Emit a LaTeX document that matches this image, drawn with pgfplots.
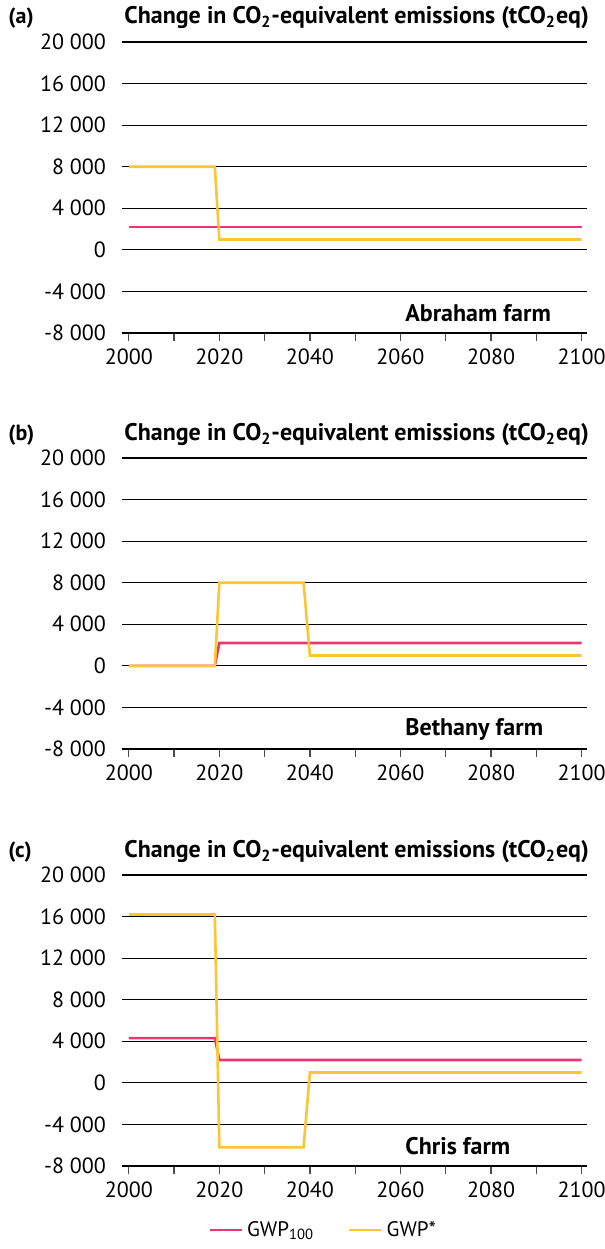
\documentclass[border=0pt]{standalone}
\usepackage{pgfplots}
\pgfplotsset{compat=1.18}
\usepackage{fontspec}
\setmainfont{PT Sans}
\definecolor{gwpa}{RGB}{233,56,110}
\definecolor{gwpb}{RGB}{253,196,52}
\tikzset{farmlabel/.style={anchor=west,inner sep=0pt,font=\fontsize{12}{14}\selectfont\bfseries}}
\pgfplotsset{
  farm/.style={
    scale only axis,
    width=232.5pt, height=145.5pt,
    xmin=1998.5, xmax=2101.2,
    ymin=-8000, ymax=20000,
    scaled y ticks=false,
    axis x line*=bottom,
    axis y line*=left,
    y axis line style={draw=none},
    x axis line style={line width=0.6pt},
    ytick={-8000,-4000,0,4000,8000,12000,16000,20000},
    yticklabels={-8 000,-4 000,0,4 000,8 000,12 000,16 000,20 000},
    xtick={2000,2010,...,2100},
    xticklabels={2000,,2020,,2040,,2060,,2080,,2100},
    ymajorgrids,
    grid style={black,line width=0.6pt},
    ytick style={draw=none},
    xtick style={black!70,line width=0.6pt},
    tick align=outside,
    major tick length=4pt,
    ticklabel style={font=\fontsize{11}{13}\selectfont},
    yticklabel style={xshift=-0.5pt},
    xticklabel style={yshift=-0.5pt},
    clip=false,
  },
  pinkline/.style={gwpa,line width=1.3pt},
  yellowline/.style={gwpb,line width=1.3pt},
}
\begin{document}
\begin{tikzpicture}
\path[use as bounding box] (0,0) rectangle (302.5pt,-624.5pt);
% (a)
\begin{axis}[farm, at={(61pt,-21pt)}, anchor=north west]
\addplot[pinkline] coordinates {(2000,2200) (2100,2200)};
\addplot[yellowline] coordinates {(2000,8000) (2019,8000) (2020,1000) (2100,1000)};
\node[farmlabel] at (axis cs:2061,-6100) {Abraham farm};
\end{axis}
% (b)
\begin{axis}[farm, at={(61pt,-229pt)}, anchor=north west]
\addplot[pinkline] coordinates {(2000,0) (2019,0) (2020,2200) (2100,2200)};
\addplot[yellowline] coordinates {(2000,0) (2019,0) (2020,8000) (2038.6,8000) (2040,1000) (2100,1000)};
\node[farmlabel] at (axis cs:2061,-6100) {Bethany farm};
\end{axis}
% (c)
\begin{axis}[farm, at={(61pt,-437.5pt)}, anchor=north west,
  legend style={at={(0.435,-0.22)},anchor=center,draw=none,fill=none,
    legend columns=2,font=\fontsize{10.5}{12}\selectfont,
    /tikz/every even column/.append style={column sep=15pt}},
  legend image code/.code={\draw[#1] (0pt,0pt) -- (16pt,0pt);}]
\addplot[pinkline] coordinates {(2000,4300) (2019,4300) (2020,2200) (2100,2200)};
\addlegendentry{GWP\textsubscript{100}}
\addplot[yellowline] coordinates {(2000,16200) (2019,16200) (2020,-6200) (2038.6,-6200) (2040,1000) (2100,1000)};
\addlegendentry{GWP*}
\node[farmlabel] at (axis cs:2061,-6100) {Chris farm};
\end{axis}
% panel labels and titles
\foreach \lab/\yy in {a/-9pt, b/-217.5pt, c/-426pt}{
  \node[anchor=west,inner sep=0pt,font=\fontsize{11}{13}\selectfont\bfseries] at (4pt,\yy) {(\lab)};
  \node[farmlabel] at (62pt,\yy) {Change in CO\textsubscript{2}-equivalent emissions (tCO\textsubscript{2}eq)};
}
\end{tikzpicture}
\end{document}
